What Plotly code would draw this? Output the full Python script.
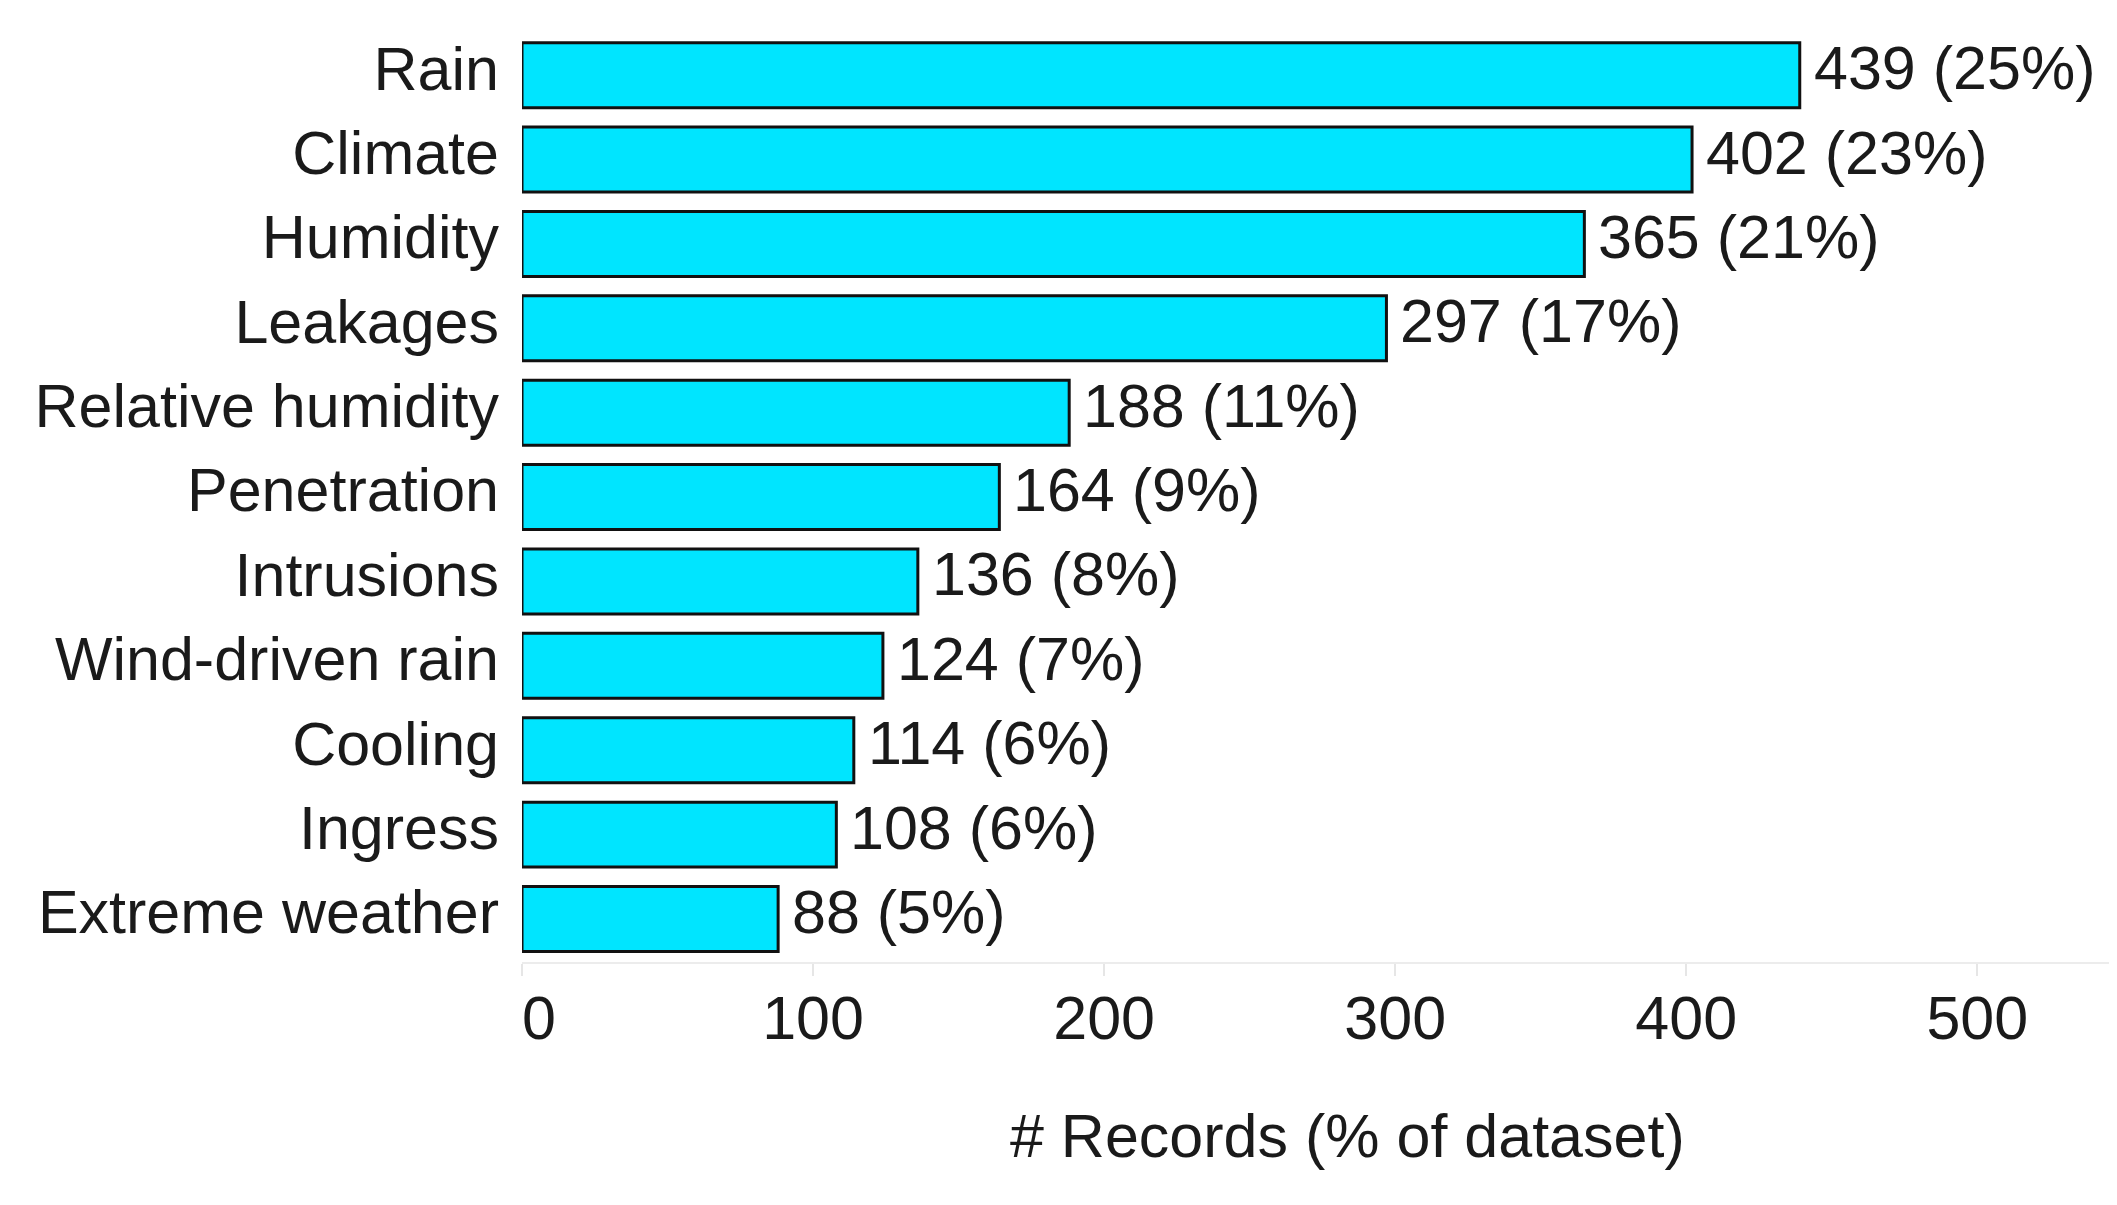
import plotly.graph_objects as go

categories = ["Rain", "Climate", "Humidity", "Leakages", "Relative humidity",
              "Penetration", "Intrusions", "Wind-driven rain", "Cooling",
              "Ingress", "Extreme weather"]
records = [439, 402, 365, 297, 188, 164, 136, 124, 114, 108, 88]
percents = [25, 23, 21, 17, 11, 9, 8, 7, 6, 6, 5]
x_ticks = [0, 100, 200, 300, 400, 500]
x_tick_labels = ["\u20070", "100", "200", "300", "400", "500"]

labels = [f"{r} ({p}%)" for r, p in zip(records, percents)]

FONT = "Liberation Sans, Arial, sans-serif"
FS = 61
TXT = "#1a1a1a"

fig = go.Figure(go.Bar(
    y=categories,
    x=records,
    orientation="h",
    marker=dict(color="#00E5FF", line=dict(color="#111111", width=3)),
    cliponaxis=False,
    width=0.77,
))

annotations = [dict(
    x=r, y=c, xref="x", yref="y", text=t,
    xanchor="left", yanchor="middle", xshift=12, yshift=7,
    showarrow=False, font=dict(family=FONT, size=FS, color=TXT),
) for r, c, t in zip(records, categories, labels)]

annotations.append(dict(
    text="# Records (% of dataset)",
    xref="paper", yref="paper", x=0.5175, y=0,
    xanchor="center", yanchor="middle", yshift=-174,
    showarrow=False,
    font=dict(family=FONT, size=FS, color=TXT),
))

fig.update_layout(
    width=2117, height=1205,
    margin=dict(l=514, r=8, t=25, b=251, pad=0),
    paper_bgcolor="white", plot_bgcolor="white",
    showlegend=False,
    font=dict(family=FONT, size=FS, color=TXT),
    xaxis=dict(
        range=[0, 548],
        tickvals=x_ticks, ticktext=x_tick_labels,
        showgrid=False, zeroline=False,
        showline=True, linecolor="#ececec", linewidth=2,
        ticks="outside", ticklen=12, tickwidth=2, tickcolor="#e6e6e6",
        tickfont=dict(family=FONT, size=FS, color=TXT),
        ticklabelstandoff=-10,
    ),
    yaxis=dict(
        autorange="reversed",
        showgrid=False, zeroline=False, showline=False,
        ticks="", ticklabelstandoff=22, ticklabelshift=7,
        tickfont=dict(family=FONT, size=FS, color=TXT),
    ),
    annotations=annotations,
)

fig.write_html("out.html")
